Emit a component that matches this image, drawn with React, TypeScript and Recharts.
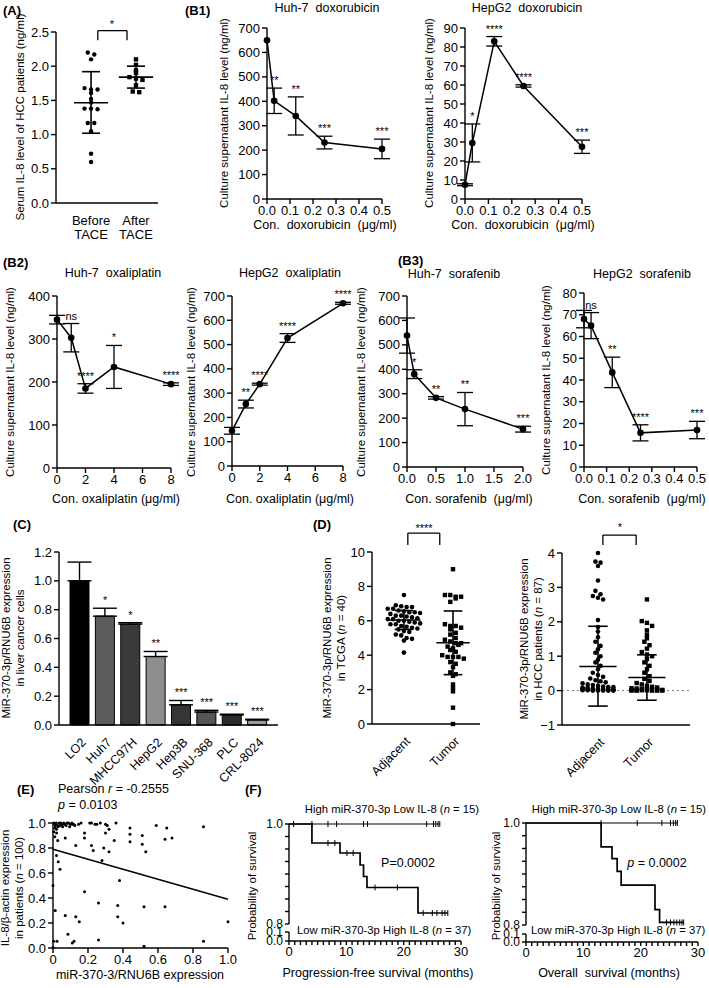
import React from 'react';
import {
  ComposedChart, ScatterChart, Scatter, Line, Bar, Cell, XAxis, YAxis,
  ErrorBar, LabelList, ReferenceLine,
} from 'recharts';

const FONT = '"Liberation Sans", Arial, Helvetica, sans-serif';

// ---------------- (A) serum IL-8 before / after TACE ----------------
const taceCategories = ['Before\nTACE', 'After\nTACE'];
const taceBefore = [2.2, 2.17, 2.1, 1.68, 1.66, 1.66, 1.61, 1.52, 1.47, 1.38, 1.38, 1.37, 1.17, 1.17, 1.05, 0.72, 0.6];
const taceAfter = [2.1, 2.02, 1.94, 1.9, 1.84, 1.82, 1.8, 1.72, 1.63, 1.62];
const taceMean = [1.465, 1.84];
const taceSdHigh = [1.92, 2.0];
const taceSdLow = [1.02, 1.68];
const taceYTicks = [0, 0.5, 1, 1.5, 2, 2.5];

// ---------------- (B1) doxorubicin ----------------
const doxConc = [0, 0.03125, 0.125, 0.25, 0.5];
const doxXTicks = [0, 0.1, 0.2, 0.3, 0.4, 0.5];
const huh7Dox = [650, 402, 340, 231, 205];
const huh7DoxErr = [0, 52, 78, 26, 40];
const huh7DoxSig = ['', '**', '**', '***', '***'];
const huh7DoxYTicks = [0, 100, 200, 300, 400, 500, 600, 700];
const hepg2Dox = [7.5, 29.5, 83, 59.5, 27.5];
const hepg2DoxErr = [0.5, 10, 2.5, 0.6, 3.5];
const hepg2DoxSig = ['', '*', '****', '****', '***'];
const hepg2DoxYTicks = [0, 10, 20, 30, 40, 50, 60, 70, 80, 90];

// ---------------- (B2) oxaliplatin ----------------
const oxaConc = [0, 1, 2, 4, 8];
const oxaXTicks = [0, 2, 4, 6, 8];
const huh7Oxa = [345, 303, 185, 235, 195];
const huh7OxaErr = [10, 33, 11, 50, 3];
const huh7OxaSig = ['', 'ns', '****', '*', '****'];
const huh7OxaYTicks = [0, 100, 200, 300, 400];
const hepg2Oxa = [145, 255, 337, 527, 670];
const hepg2OxaErr = [14, 16, 4, 18, 4];
const hepg2OxaSig = ['', '**', '****', '****', '****'];
const hepg2OxaYTicks = [0, 100, 200, 300, 400, 500, 600, 700];

// ---------------- (B3) sorafenib ----------------
const huh7SorConc = [0, 0.125, 0.5, 1, 2];
const huh7SorXTicks = [0, 0.5, 1, 1.5, 2];
const huh7Sor = [538, 380, 283, 237, 155];
const huh7SorErr = [72, 18, 5, 68, 12];
const huh7SorSig = ['', '*', '**', '**', '***'];
const huh7SorYTicks = [0, 100, 200, 300, 400, 500, 600, 700];
const hepg2SorConc = [0, 0.03125, 0.125, 0.25, 0.5];
const hepg2SorXTicks = [0, 0.1, 0.2, 0.3, 0.4, 0.5];
const hepg2Sor = [68, 65, 43.5, 15.7, 17];
const hepg2SorErr = [4, 6, 7, 3.7, 4];
const hepg2SorSig = ['', 'ns', '**', '****', '***'];
const hepg2SorYTicks = [0, 10, 20, 30, 40, 50, 60, 70, 80];

// ---------------- (C) cell lines ----------------
const cellLines = ['LO2', 'Huh7', 'MHCC97H', 'HepG2', 'Hep3B', 'SNU-368', 'PLC', 'CRL-8024'];
const cellExpr = [1.0, 0.755, 0.7, 0.475, 0.14, 0.09, 0.07, 0.035];
const cellErr = [0.13, 0.055, 0.01, 0.035, 0.03, 0.012, 0.005, 0.005];
const cellSig = ['', '*', '*', '**', '***', '***', '***', '***'];
const cellColors = ['#000000', '#5c5c5c', '#3a3a3a', '#8e8e8e', '#353535', '#555555', '#2c2c2c', '#9a9a9a'];
const cellYTicks = [0, 0.2, 0.4, 0.6, 0.8, 1.0, 1.2];

// ---------------- (D) TCGA / HCC patients ----------------
const tissueGroups = ['Adjacent', 'Tumor'];
const tcgaAdjacent = [7.5, 6.9, 6.85, 6.8, 6.8, 6.7, 6.7, 6.6, 6.55, 6.5, 6.5, 6.45, 6.4, 6.3, 6.3, 6.25, 6.2, 6.15, 6.1, 6.1,
  6.0, 6.0, 5.95, 5.9, 5.85, 5.8, 5.8, 5.7, 5.65, 5.6, 5.55, 5.5, 5.4, 5.35, 5.2, 5.15, 5.0, 4.95, 4.85, 4.15];
const tcgaTumor = [9.0, 7.5, 7.5, 7.4, 7.4, 7.1, 7.3, 5.8, 5.7, 5.7, 5.6, 5.5, 5.3, 5.2, 5.0, 4.9, 4.8, 4.7, 4.7, 4.5,
  4.4, 4.3, 4.2, 4.0, 3.9, 3.9, 3.9, 3.8, 3.6, 3.5, 3.3, 3.0, 2.9, 2.8, 2.3, 2.1, 1.9, 0.95, 0.0, 4.6];
const tcgaMean = [6.05, 4.72];
const tcgaSdHigh = [6.6, 6.57];
const tcgaSdLow = [5.5, 2.87];
const tcgaYTicks = [0, 2, 4, 6, 8, 10];

const hccAdjacent = [4.0, 3.75, 3.72, 3.62, 3.2, 2.9, 2.8, 2.75, 2.7, 2.65, 2.05, 1.85, 1.72, 1.55, 1.42, 1.3, 1.2, 1.1, 1.0, 0.9,
  0.82, 0.72, 0.62, 0.52, 0.45, 0.4, 0.35, 0.3, 0.27, 0.24, 0.21, 0.18, 0.16, 0.14, 0.12, 0.1, 0.1, 0.08, 0.08, 0.07,
  0.06, 0.06, 0.05, 0.05, 0.04, 0.04, 0.03, 0.03, 0.02, 0.02, 0.02, 0.01, 0.01, 0.01, 0.01, 0.0, 0.0, 0.0, 0.0, 0.0];
const hccTumor = [2.65, 2.02, 1.97, 1.88, 1.75, 1.62, 1.52, 1.42, 1.32, 1.22, 1.12, 1.05, 1.0, 0.92, 0.82, 0.72, 0.62, 0.52, 0.42, 0.34,
  0.28, 0.22, 0.18, 0.14, 0.11, 0.09, 0.07, 0.06, 0.05, 0.04, 0.03, 0.03, 0.02, 0.02, 0.01, 0.01, 0.01, 0.0, 0.0, 0.0, 0.0, 0.0];
const hccMean = [0.7, 0.38];
const hccSdHigh = [1.87, 1.04];
const hccSdLow = [-0.45, -0.28];
const hccYTicks = [-1, 0, 1, 2, 3, 4];

// ---------------- (E) correlation ----------------
const corrMir = [0.008, 0.013, 0.019, 0.027, 0.036, 0.042, 0.051, 0.061, 0.07, 0.08, 0.089, 0.099, 0.108, 0.118, 0.146, 0.21, 0.22, 0.25, 0.30, 0.36, 0.44, 0.59, 0.65, 0.86,
  0.004, 0.02, 0.01, 0.027, 0.07, 0.18, 0.18, 0.30, 0.32, 0.35, 0.44, 0.44, 0.51, 0.51, 0.53, 0.64, 0.68, 0.22, 0.23, 0.29, 0.32, 0.13, 0.02, 0.03, 0.04, 0.28,
  0.38, 0.18, 0.0, 0.013, 0.26, 0.37, 0.52, 0.64, 0.07, 0.13, 0.15, 0.37, 0.40, 1.0, 0.085, 0.023, 0.004, 0.11, 0.12, 0.26, 0.52, 0.86, 0.0,
  0.005, 0.015, 0.03, 0.045, 0.055, 0.065, 0.075, 0.095, 0.11, 0.125, 0.16, 0.24, 0.27, 0.31, 0.02, 0.01];
const corrIl8 = [0.99, 0.97, 1.0, 0.98, 1.0, 0.98, 0.99, 1.0, 0.99, 1.0, 1.0, 0.99, 1.0, 0.99, 0.99, 1.0, 1.0, 0.99, 0.99, 1.0, 0.96, 0.98, 0.96, 0.97,
  0.93, 0.92, 0.89, 0.86, 0.88, 0.92, 0.88, 0.92, 0.95, 0.86, 0.91, 0.85, 0.9, 0.83, 0.77, 0.87, 0.88, 0.82, 0.78, 0.80, 0.77, 0.82, 0.74, 0.69, 0.63, 0.70,
  0.54, 0.45, 0.50, 0.30, 0.36, 0.34, 0.33, 0.33, 0.26, 0.25, 0.21, 0.25, 0.20, 0.21, 0.11, 0.055, 0.055, 0.04, 0.055, 0.064, 0.015, 0.055, 0.005,
  1.0, 0.99, 0.97, 1.0, 0.97, 0.99, 0.98, 0.97, 0.99, 0.98, 1.0, 0.99, 1.0, 0.98, 0.95, 0.96];
const corrFitX = [0, 1];
const corrFitY = [0.79, 0.39];
const corrTicks = [0, 0.2, 0.4, 0.6, 0.8, 1.0];

// ---------------- (F) Kaplan-Meier ----------------
const pfsHighT = [0, 26.3];
const pfsHighS = [1, 1];
const pfsHighCensor = [0.8, 4, 6.8, 8.3, 13, 13.7, 24, 25.2, 25.6, 26, 26.3];
const pfsLowT = [0, 4, 8.9, 12.4, 13, 13.6, 22.5, 27.7];
const pfsLowS = [1, 0.962, 0.942, 0.918, 0.895, 0.873, 0.822, 0.822];
const pfsLowCensor = [6.8, 8.0, 10.1, 11.2, 15.0, 18.9, 23.4, 25.0, 25.8, 26.7, 27.2, 27.7];
const osHighT = [0, 26.4];
const osHighS = [1, 1];
const osHighCensor = [13.1, 19.4, 23.7, 25.2, 25.7, 26.1, 26.4];
const osLowT = [0, 13.1, 15.0, 15.9, 16.6, 22.5, 23.3, 27.5];
const osLowS = [1, 0.953, 0.93, 0.905, 0.878, 0.83, 0.805, 0.805];
const osLowCensor = [24.5, 25.2, 25.8, 26.3, 26.8, 27.2, 27.5];
const kmUpperTicks = [0.8, 0.825, 0.85, 0.875, 0.9, 0.925, 0.95, 0.975, 1.0];
const kmUpperLabels = [0.8, 1.0];
const kmLowerTicks = [0, 0.1];
const kmXLabels = [0, 10, 20, 30];

// ======================================================================
const AX = { stroke: '#000', strokeWidth: 1.4 };
const TICK = { fill: '#000', fontSize: 13, fontFamily: FONT };
const KMTICK = { fill: '#000', fontSize: 12, fontFamily: FONT };

type Rect = [number, number, number, number];
function box(r: Rect, l = 48, t = 24, rt = 24, b = 40, hideX = false) {
  const [x0, y0, x1, y1] = r;
  return {
    style: { position: 'absolute' as const, left: x0 - l, top: y0 - t },
    width: x1 - x0 + l + rt,
    height: y1 - y0 + t + b,
    margin: { top: t, right: rt, bottom: hideX ? b : 0, left: 0 },
    yw: l,
    xh: b,
  };
}

// beeswarm layout: points of similar value are spread side by side
function swarm(values: number[], center: number, bin: number, step: number, maxCols: number) {
  const groups: Record<string, number[]> = {};
  values.forEach((v, i) => {
    const k = String(Math.round(v / bin));
    (groups[k] = groups[k] || []).push(i);
  });
  const out: { x: number; y: number }[] = new Array(values.length);
  Object.values(groups).forEach((idx) => {
    const cols = Math.min(idx.length, maxCols);
    idx.forEach((i, j) => {
      const c = j % cols;
      out[i] = { x: center + (c - (cols - 1) / 2) * step, y: values[i] };
    });
  });
  return out;
}

function statSegments(centers: number[], mean: number[], hi: number[], lo: number[], mw: number, cw: number) {
  const segs: { x: number; y: number }[][] = [];
  centers.forEach((c, i) => {
    segs.push([{ x: c - mw, y: mean[i] }, { x: c + mw, y: mean[i] }]);
    segs.push([{ x: c, y: lo[i] }, { x: c, y: hi[i] }]);
    segs.push([{ x: c - cw, y: hi[i] }, { x: c + cw, y: hi[i] }]);
    segs.push([{ x: c - cw, y: lo[i] }, { x: c + cw, y: lo[i] }]);
  });
  return segs;
}

function bracketSegments(xa: number, xb: number, top: number, leg: number) {
  return [
    [{ x: xa, y: leg }, { x: xa, y: top }],
    [{ x: xa, y: top }, { x: xb, y: top }],
    [{ x: xb, y: top }, { x: xb, y: leg }],
  ];
}

const circleShape = (r: number) => (p: any) => <circle cx={p.cx} cy={p.cy} r={r} fill="#000" />;
const squareShape = (h: number) => (p: any) => <rect x={p.cx - h} y={p.cy - h} width={2 * h} height={2 * h} fill="#000" />;

const sigLabel = (p: any) => {
  if (!p.value) return null;
  const vb = p.viewBox || {};
  const x = (vb.x ?? p.x) + (vb.width ?? 0) / 2;
  const y = vb.y ?? p.y;
  return (
    <text key={'sig' + p.index + '-' + x} x={x} y={y - 4} textAnchor="middle" fontSize={11} fontFamily={FONT} fill="#000">
      {p.value}
    </text>
  );
};

const rotTick = (labels?: Record<number, string>) => (props: any) => {
  const { x, y, payload } = props;
  const txt = labels ? labels[payload.value] : payload.value;
  return (
    <text transform={`translate(${x + 4},${y + 7}) rotate(-45)`} textAnchor="end" dy="0.35em"
      fontSize={12.5} fontFamily={FONT} fill="#000">{txt}</text>
  );
};

const twoLineTick = (labels: Record<number, string>) => (props: any) => {
  const { x, y, payload } = props;
  const lines = (labels[payload.value] || '').split('\n');
  return (
    <text x={x} y={y + 14} textAnchor="middle" fontSize={13} fontFamily={FONT} fill="#000">
      {lines.map((l, i) => <tspan key={i} x={x} dy={i === 0 ? 0 : 14}>{l}</tspan>)}
    </text>
  );
};

function T({ x, y, s = 12, a = 'start', b = false, children }: any) {
  const W = 400;
  const left = a === 'middle' ? x - W / 2 : a === 'end' ? x - W : x;
  return (
    <div style={{ position: 'absolute', left, top: y, width: W, transform: 'translateY(-50%)', fontSize: s,
      fontWeight: b ? 700 : 400, whiteSpace: 'pre', lineHeight: 1, textAlign: a === 'middle' ? 'center' : a === 'end' ? 'right' : 'left' }}>
      {children}
    </div>
  );
}

function VT({ x, y, s = 11.5, children }: any) {
  return (
    <div style={{ position: 'absolute', left: x, top: y, transform: 'translate(-50%,-50%) rotate(-90deg)',
      fontSize: s, whiteSpace: 'pre', textAlign: 'center', lineHeight: 1.2 }}>{children}</div>
  );
}

// ---------------------------------------------------------------------
function DoseChart({ r, xs, ys, errs, sigs, xTicks, xDigits, yTicks }: any) {
  const g = box(r);
  const data = xs.map((x: number, i: number) => ({ x, y: ys[i], err: errs[i], top: ys[i] + errs[i], sig: sigs[i] }));
  return (
    <div style={g.style}>
      <ComposedChart width={g.width} height={g.height} margin={g.margin} data={data}>
        <XAxis type="number" dataKey="x" domain={[xTicks[0], xTicks[xTicks.length - 1]]} ticks={xTicks} interval={0}
          tickFormatter={(v: number) => v.toFixed(xDigits)} height={g.xh} axisLine={AX} tickLine={AX} tick={TICK} tickSize={5} />
        <YAxis type="number" domain={[yTicks[0], yTicks[yTicks.length - 1]]} ticks={yTicks} interval={0}
          width={g.yw} axisLine={AX} tickLine={AX} tick={TICK} tickSize={5} />
        <Line dataKey="y" stroke="#000" strokeWidth={1.5} dot={{ r: 3.3, fill: '#000', stroke: '#000', strokeWidth: 0 }}
          activeDot={false} isAnimationActive={false}>
          <ErrorBar dataKey="err" width={8} stroke="#000" strokeWidth={1.3} direction="y" />
        </Line>
        <Line dataKey="top" stroke="none" dot={false} activeDot={false} isAnimationActive={false}>
          <LabelList dataKey="sig" content={sigLabel} />
        </Line>
      </ComposedChart>
    </div>
  );
}

function TaceChart() {
  const g = box([56, 32, 158, 203], 44, 24, 10, 46);
  const before = swarm(taceBefore, 1, 0.07, 0.145, 5);
  const after = swarm(taceAfter, 2, 0.07, 0.145, 5);
  const labels: Record<number, string> = { 1: taceCategories[0], 2: taceCategories[1] };
  const segs = statSegments([1, 2], taceMean, taceSdHigh, taceSdLow, 0.38, 0.2);
  const br = bracketSegments(1.15, 1.8, 2.52, 2.38);
  return (
    <div style={g.style}>
      <ScatterChart width={g.width} height={g.height} margin={g.margin}>
        <XAxis type="number" dataKey="x" domain={[0.22, 2.49]} ticks={[1, 2]} interval={0} height={g.xh}
          axisLine={AX} tickLine={false} tick={twoLineTick(labels)} allowDataOverflow />
        <YAxis type="number" dataKey="y" domain={[0, 2.5]} ticks={taceYTicks} interval={0} width={g.yw}
          tickFormatter={(v: number) => v.toFixed(1)} axisLine={AX} tickLine={AX} tick={TICK} tickSize={5} />
        <Scatter data={before} shape={circleShape(2.2)} isAnimationActive={false} />
        <Scatter data={after} shape={squareShape(2.2)} isAnimationActive={false} />
        {segs.map((s, i) => <ReferenceLine key={'s' + i} segment={s} stroke="#000" strokeWidth={1.6} ifOverflow="visible" />)}
        {br.map((s, i) => <ReferenceLine key={'b' + i} segment={s} stroke="#000" strokeWidth={1.3} ifOverflow="visible" />)}
      </ScatterChart>
    </div>
  );
}

function CellChart() {
  const g = box([59, 552, 278, 725], 44, 30, 12, 80);
  const data = cellLines.map((name, i) => ({
    name, v: cellExpr[i], err: [0, cellErr[i]], top: cellExpr[i] + cellErr[i], sig: cellSig[i],
  }));
  return (
    <div style={g.style}>
      <ComposedChart width={g.width} height={g.height} margin={g.margin} data={data}>
        <XAxis dataKey="name" type="category" padding={{ left: 8, right: 8 }} interval={0} height={g.xh}
          axisLine={AX} tickLine={false} tick={rotTick()} />
        <YAxis type="number" domain={[0, 1.2]} ticks={cellYTicks} interval={0} width={g.yw}
          tickFormatter={(v: number) => v.toFixed(1)} axisLine={AX} tickLine={AX} tick={TICK} tickSize={5} />
        <Bar dataKey="v" barSize={19} stroke="#000" strokeWidth={1} isAnimationActive={false}>
          {data.map((d, i) => <Cell key={i} fill={cellColors[i]} />)}
          <ErrorBar dataKey="err" width={12} stroke="#000" strokeWidth={1.4} />
        </Bar>
        <Line dataKey="top" stroke="none" dot={false} activeDot={false} isAnimationActive={false}>
          <LabelList dataKey="sig" content={sigLabel} />
        </Line>
      </ComposedChart>
    </div>
  );
}

function TissueChart({ r, xDomain, adj, tum, yTicks, mean, hi, lo, bin, step, mw, cw, br, zero }: any) {
  const g = box(r, 34, 36, 10, 66);
  const a = swarm(adj, 1, bin, step, 7);
  const t = swarm(tum, 2, bin, step, 7);
  const labels: Record<number, string> = { 1: tissueGroups[0], 2: tissueGroups[1] };
  const segs = statSegments([1, 2], mean, hi, lo, mw, cw);
  return (
    <div style={g.style}>
      <ScatterChart width={g.width} height={g.height} margin={g.margin}>
        <XAxis type="number" dataKey="x" domain={xDomain} ticks={[1, 2]} interval={0} height={g.xh}
          axisLine={AX} tickLine={false} tick={rotTick(labels)} allowDataOverflow />
        <YAxis type="number" dataKey="y" domain={[yTicks[0], yTicks[yTicks.length - 1]]} ticks={yTicks} interval={0}
          width={g.yw} tickFormatter={(v: number) => (v < 0 ? '\u2212' + Math.abs(v) : String(v))}
          axisLine={AX} tickLine={AX} tick={TICK} tickSize={5} />
        {zero && <ReferenceLine y={0} stroke="#777" strokeDasharray="2 3" strokeWidth={1} />}
        <Scatter data={a} shape={circleShape(2.3)} isAnimationActive={false} />
        <Scatter data={t} shape={squareShape(2.2)} isAnimationActive={false} />
        {segs.map((s: any, i: number) => <ReferenceLine key={'s' + i} segment={s} stroke="#000" strokeWidth={1.6} ifOverflow="visible" />)}
        {br.map((s: any, i: number) => <ReferenceLine key={'b' + i} segment={s} stroke="#000" strokeWidth={1.3} ifOverflow="visible" />)}
      </ScatterChart>
    </div>
  );
}

function CorrChart() {
  const g = box([53, 823, 228, 948], 40, 8, 16, 24);
  const pts = corrMir.map((x, i) => ({ x, y: corrIl8[i] }));
  const fit = [{ x: corrFitX[0], y: corrFitY[0] }, { x: corrFitX[1], y: corrFitY[1] }];
  return (
    <div style={g.style}>
      <ScatterChart width={g.width} height={g.height} margin={g.margin}>
        <XAxis type="number" dataKey="x" domain={[0, 1]} ticks={corrTicks} interval={0} height={g.xh}
          tickFormatter={(v: number) => (v === 0 ? '0' : v.toFixed(1))} axisLine={AX} tickLine={AX} tick={TICK} tickSize={5} />
        <YAxis type="number" dataKey="y" domain={[0, 1]} ticks={corrTicks} interval={0} width={g.yw}
          tickFormatter={(v: number) => v.toFixed(1)} axisLine={AX} tickLine={AX} tick={TICK} tickSize={5} />
        <Scatter data={pts} shape={circleShape(1.5)} isAnimationActive={false} />
        <ReferenceLine segment={fit} stroke="#000" strokeWidth={1.5} />
      </ScatterChart>
    </div>
  );
}

function stepAt(ts: number[], ss: number[], t: number) {
  let s = ss[0];
  ts.forEach((tt, i) => { if (tt <= t) s = ss[i]; });
  return s;
}

function KMChart({ up, low, hT, hS, hC, lT, lS, lC }: any) {
  const gu = box(up, 36, 10, 12, 9, true);
  const gl = box(low, 36, 10, 12, 26);
  const high = hT.map((t: number, i: number) => ({ t, s: hS[i] }));
  const lowC = lT.map((t: number, i: number) => ({ t, s: lS[i] }));
  const hCens = hC.map((t: number) => ({ t, s: stepAt(hT, hS, t) }));
  const lCens = lC.map((t: number) => ({ t, s: stepAt(lT, lS, t) }));
  const tick = (p: any) => (
    <line key={'c' + p.index + '-' + p.cx} x1={p.cx} x2={p.cx} y1={p.cy - 3} y2={p.cy + 3} stroke="#000" strokeWidth={1} />
  );
  const xTicks = Array.from({ length: 31 }, (_, i) => i);
  return (
    <>
      <div style={gu.style}>
        <ComposedChart width={gu.width} height={gu.height} margin={gu.margin}>
          <XAxis type="number" dataKey="t" domain={[0, 30]} hide />
          <YAxis type="number" domain={[0.8, 1]} ticks={kmUpperTicks} interval={0} width={gu.yw}
            tickFormatter={(v: number) => (kmUpperLabels.some((l) => Math.abs(l - v) < 1e-9) ? v.toFixed(1) : '')}
            axisLine={AX} tickLine={AX} tick={KMTICK} tickSize={4} />
          <Line data={high} dataKey="s" type="stepAfter" stroke="#000" strokeWidth={1} dot={false} activeDot={false} isAnimationActive={false} />
          <Line data={lowC} dataKey="s" type="stepAfter" stroke="#000" strokeWidth={1.7} dot={false} activeDot={false} isAnimationActive={false} />
          <Line data={hCens} dataKey="s" stroke="none" dot={tick} activeDot={false} isAnimationActive={false} />
          <Line data={lCens} dataKey="s" stroke="none" dot={tick} activeDot={false} isAnimationActive={false} />
        </ComposedChart>
      </div>
      <div style={gl.style}>
        <ComposedChart width={gl.width} height={gl.height} margin={gl.margin}>
          <XAxis type="number" dataKey="t" domain={[0, 30]} ticks={xTicks} interval={0} height={gl.xh}
            tickFormatter={(v: number) => (kmXLabels.includes(v) ? String(v) : '')}
            axisLine={AX} tickLine={AX} tick={TICK} tickSize={4} />
          <YAxis type="number" domain={[0, 0.1]} ticks={kmLowerTicks} interval={0} width={gl.yw}
            tickFormatter={(v: number) => v.toFixed(1)} axisLine={AX} tickLine={AX} tick={KMTICK} tickSize={4} />
          <Line data={[{ t: 0, s: 0 }, { t: 30, s: 0 }]} dataKey="s" stroke="none" dot={false} activeDot={false} isAnimationActive={false} />
        </ComposedChart>
      </div>
    </>
  );
}

export default function App() {
  const yTitle = 'Culture supernatant IL-8 level (ng/ml)';
  return (
    <div style={{ position: 'absolute', left: 0, top: 0, width: 709, height: 988, background: '#fff',
      fontFamily: FONT, color: '#000', overflow: 'hidden' }}>
      {/* (A) */}
      <TaceChart />
      <T x={3} y={10} s={13} b>(A)</T>
      <T x={112} y={24} s={11} a="middle">*</T>
      <VT x={21} y={117}>Serum IL-8 level of HCC patients (ng/ml)</VT>

      {/* (B1) */}
      <DoseChart r={[267, 28, 382, 199]} xs={doxConc} ys={huh7Dox} errs={huh7DoxErr} sigs={huh7DoxSig}
        xTicks={doxXTicks} xDigits={1} yTicks={huh7DoxYTicks} />
      <DoseChart r={[465, 28, 582, 199]} xs={doxConc} ys={hepg2Dox} errs={hepg2DoxErr} sigs={hepg2DoxSig}
        xTicks={doxXTicks} xDigits={1} yTicks={hepg2DoxYTicks} />
      <T x={185} y={10} s={13} b>(B1)</T>
      <T x={327} y={8} s={12.5} a="middle">Huh-7  doxorubicin</T>
      <T x={527} y={8} s={12.5} a="middle">HepG2  doxorubicin</T>
      <T x={325} y={225} s={12.5} a="middle">Con.  doxorubicin  (μg/ml)</T>
      <T x={523} y={225} s={12.5} a="middle">Con.  doxorubicin  (μg/ml)</T>
      <VT x={225} y={113}>{yTitle}</VT>
      <VT x={430} y={113}>{yTitle}</VT>

      {/* (B2) */}
      <DoseChart r={[57, 296, 171, 468]} xs={oxaConc} ys={huh7Oxa} errs={huh7OxaErr} sigs={huh7OxaSig}
        xTicks={oxaXTicks} xDigits={0} yTicks={huh7OxaYTicks} />
      <DoseChart r={[232, 296, 343, 466]} xs={oxaConc} ys={hepg2Oxa} errs={hepg2OxaErr} sigs={hepg2OxaSig}
        xTicks={oxaXTicks} xDigits={0} yTicks={hepg2OxaYTicks} />
      <T x={3} y={262} s={13} b>(B2)</T>
      <T x={113} y={273} s={12.5} a="middle">Huh-7  oxaliplatin</T>
      <T x={290} y={273} s={12.5} a="middle">HepG2  oxaliplatin</T>
      <T x={116} y={499} s={12.5} a="middle">Con. oxaliplatin (μg/ml)</T>
      <T x={290} y={499} s={12.5} a="middle">Con. oxaliplatin (μg/ml)</T>
      <VT x={11} y={382}>{yTitle}</VT>
      <VT x={192} y={382}>{yTitle}</VT>

      {/* (B3) */}
      <DoseChart r={[407, 296, 523, 467]} xs={huh7SorConc} ys={huh7Sor} errs={huh7SorErr} sigs={huh7SorSig}
        xTicks={huh7SorXTicks} xDigits={1} yTicks={huh7SorYTicks} />
      <DoseChart r={[584, 293, 697, 467]} xs={hepg2SorConc} ys={hepg2Sor} errs={hepg2SorErr} sigs={hepg2SorSig}
        xTicks={hepg2SorXTicks} xDigits={1} yTicks={hepg2SorYTicks} />
      <T x={398} y={260} s={13} b>(B3)</T>
      <T x={454} y={274} s={12.5} a="middle">Huh-7  sorafenib</T>
      <T x={642} y={274} s={12.5} a="middle">HepG2  sorafenib</T>
      <T x={469} y={499} s={12.5} a="middle">Con. sorafenib  (μg/ml)</T>
      <T x={642} y={499} s={12.5} a="middle">Con. sorafenib  (μg/ml)</T>
      <VT x={362} y={382}>{yTitle}</VT>
      <VT x={547} y={380}>{yTitle}</VT>

      {/* (C) */}
      <CellChart />
      <T x={13} y={524} s={13} b>(C)</T>
      <VT x={14} y={638}>{'MiR-370-3p/RNU6B expression\nin liver cancer cells'}</VT>

      {/* (D) */}
      <TissueChart r={[372, 552, 480, 724]} xDomain={[0.35, 2.55]} adj={tcgaAdjacent} tum={tcgaTumor} yTicks={tcgaYTicks}
        mean={tcgaMean} hi={tcgaSdHigh} lo={tcgaSdLow} bin={0.3} step={0.11} mw={0.34} cw={0.19}
        br={bracketSegments(1.08, 1.73, 11.1, 10.4)} zero={false} />
      <TissueChart r={[562, 553, 690, 725]} xDomain={[0.265, 2.88]} adj={hccAdjacent} tum={hccTumor} yTicks={hccYTicks}
        mean={hccMean} hi={hccSdHigh} lo={hccSdLow} bin={0.15} step={0.105} mw={0.38} cw={0.2}
        br={bracketSegments(1.1, 1.78, 4.52, 4.23)} zero />
      <T x={313} y={524} s={13} b>(D)</T>
      <T x={424} y={528} s={11} a="middle">****</T>
      <T x={620} y={527} s={11} a="middle">*</T>
      <VT x={335} y={638}>{'MiR-370-3p/RNU6B expression'}<br />in TCGA (<i>n</i> = 40)</VT>
      <VT x={532} y={639}>{'MiR-370-3p/RNU6B expression'}<br />in HCC patients (<i>n</i> = 87)</VT>

      {/* (E) */}
      <CorrChart />
      <T x={17} y={789} s={13} b>(E)</T>
      <T x={58} y={789} s={12.5}>Pearson <i>r</i> = -0.2555</T>
      <T x={58} y={805} s={12.5}><i>p</i> = 0.0103</T>
      <T x={140} y={975} s={12.5} a="middle">miR-370-3/RNU6B expression</T>
      <VT x={13} y={888}>{'IL-8/β-actin expression'}<br />in patients (<i>n</i> = 100)</VT>

      {/* (F) */}
      <KMChart up={[289, 824, 461, 924]} low={[289, 932, 461, 941]} hT={pfsHighT} hS={pfsHighS} hC={pfsHighCensor}
        lT={pfsLowT} lS={pfsLowS} lC={pfsLowCensor} />
      <KMChart up={[526, 823, 698, 925]} low={[526, 934, 698, 942]} hT={osHighT} hS={osHighS} hC={osHighCensor}
        lT={osLowT} lS={osLowS} lC={osLowCensor} />
      <T x={245} y={789} s={13} b>(F)</T>
      <T x={392} y={810} s={11.3} a="middle">High miR-370-3p Low IL-8 (<i>n</i> = 15)</T>
      <T x={408} y={863} s={12.5} a="middle">P=0.0002</T>
      <T x={297} y={931} s={11.3}>Low miR-370-3p High IL-8 (<i>n</i> = 37)</T>
      <T x={378} y={973} s={12.5} a="middle">Progression-free survival (months)</T>
      <VT x={253} y={886}>Probability of survival</VT>
      <T x={619} y={810} s={11.3} a="middle">High miR-370-3p Low IL-8 (<i>n</i> = 15)</T>
      <T x={657} y={863} s={12.5} a="middle"><i>p</i> = 0.0002</T>
      <T x={531} y={931} s={11.3}>Low miR-370-3p High IL-8 (<i>n</i> = 37)</T>
      <T x={609} y={973} s={12.5} a="middle">Overall  survival (months)</T>
      <VT x={497} y={886}>Probability of survival</VT>
    </div>
  );
}
